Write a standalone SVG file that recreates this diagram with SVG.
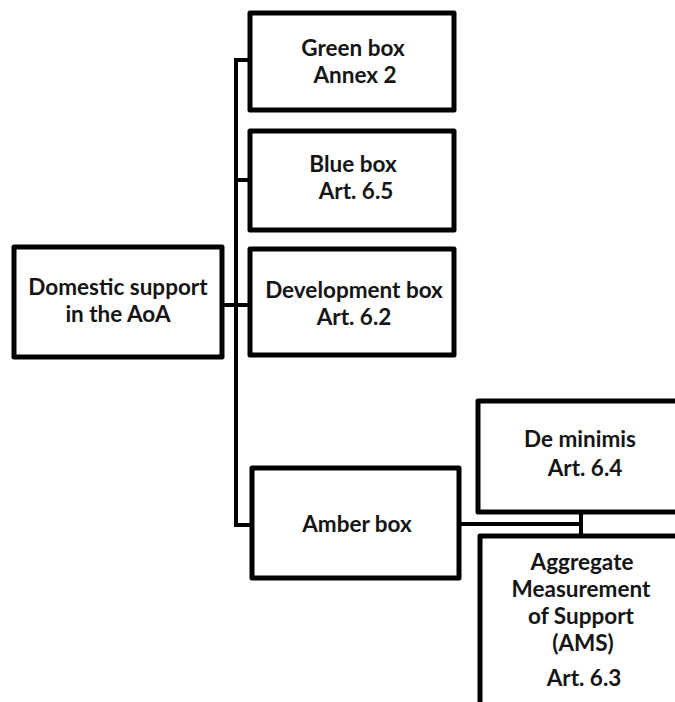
<svg xmlns="http://www.w3.org/2000/svg" width="675" height="702" viewBox="0 0 675 702">
<style>
.box{fill:#fff;stroke:#000;stroke-width:5;stroke-linejoin:round}
.ln{fill:none;stroke:#000;stroke-width:4;stroke-linecap:square}
text{font-family:Lato,"Open Sans",sans-serif;font-weight:bold;font-size:22.5px;fill:#151515;text-anchor:middle}
</style>
<rect width="675" height="702" fill="#fff"/>
<g id="connectors">
<path class="ln" d="M250 60 H236 V525 H252"/>
<path class="ln" d="M236 180 H250"/>
<path class="ln" d="M222 305 H250"/>
<path class="ln" d="M459 524 H581"/>
<path class="ln" d="M581 512 V536"/>
</g>
<g id="domestic"><rect class="box" x="14" y="247" width="208" height="110"/>
<text x="118" y="295">Domestic support</text><text x="118" y="322">in the AoA</text></g>
<g id="green"><rect class="box" x="250" y="13" width="204" height="97"/>
<text x="353" y="56">Green box</text><text x="355" y="83">Annex 2</text></g>
<g id="blue"><rect class="box" x="250" y="131" width="204" height="99"/>
<text x="353" y="172">Blue box</text><text x="356" y="199">Art. 6.5</text></g>
<g id="development"><rect class="box" x="250" y="249" width="204" height="106"/>
<text x="354" y="298">Development box</text><text x="354" y="325">Art. 6.2</text></g>
<g id="amber"><rect class="box" x="252" y="468" width="207" height="110"/>
<text x="357" y="532">Amber box</text></g>
<g id="deminimis"><rect class="box" x="478" y="401" width="220" height="111"/>
<text x="580" y="447">De minimis</text><text x="585" y="476">Art. 6.4</text></g>
<g id="ams"><rect class="box" x="480" y="536" width="220" height="190"/>
<text x="582" y="570">Aggregate</text><text x="581" y="597">Measurement</text><text x="581" y="624">of Support</text><text x="583" y="651">(AMS)</text><text x="584" y="686">Art. 6.3</text></g>
</svg>
